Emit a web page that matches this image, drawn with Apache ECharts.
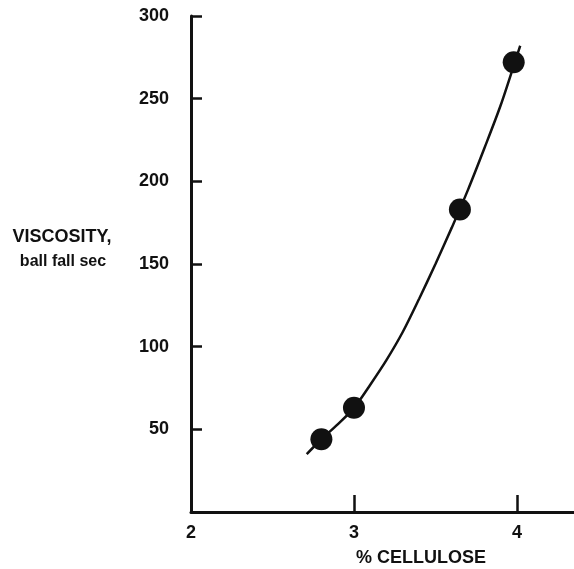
<!DOCTYPE html>
<html>
<head>
<meta charset="utf-8">
<title>Viscosity vs % Cellulose</title>
<script src="https://cdn.jsdelivr.net/npm/echarts@6/dist/echarts.min.js"></script>
<style>
  html, body { margin: 0; padding: 0; background: #ffffff; }
  #chart { width: 574px; height: 569px; }
</style>
</head>
<body>
<div id="chart"></div>
<script>
// Measured samples: % cellulose vs ball-fall viscosity (sec)
const celluloseX = [2.8, 3.0, 3.65, 3.98];
const viscosity = [44, 63, 183, 272];

// Hand-drawn fitted curve through the samples
const curveX = [2.71, 2.8, 2.9, 3.0, 3.1, 3.2, 3.3, 3.4, 3.5, 3.6, 3.7, 3.8, 3.9, 4.0, 4.02];
const curveY = [35, 44, 53, 63, 77, 92, 109, 129, 150, 172, 195, 220, 246, 276, 282];

// Tick labels
const xTicks = [2, 3, 4];
const yTicks = [50, 100, 150, 200, 250, 300];

const INK = '#111111';
const FONT = '"Liberation Sans", Arial, Helvetica, sans-serif';

const chart = echarts.init(document.getElementById('chart'), null, { renderer: 'canvas' });

chart.setOption({
  backgroundColor: '#ffffff',
  animation: false,
  grid: { left: 191, right: 0, top: 16, bottom: 57 },
  xAxis: {
    type: 'value',
    min: 2,
    max: 4.35,
    interval: 1,
    splitLine: { show: false },
    axisLine: { show: true, lineStyle: { color: INK, width: 3 } },
    axisTick: {
      show: true, inside: true, length: 17,
      customValues: xTicks.filter(v => v !== 2),
      lineStyle: { color: INK, width: 2.5 }
    },
    axisLabel: {
      customValues: xTicks,
      margin: 12,
      color: INK, fontFamily: FONT, fontWeight: 'bold', fontSize: 18
    }
  },
  yAxis: {
    type: 'value',
    min: 0,
    max: 300,
    interval: 50,
    splitLine: { show: false },
    axisLine: { show: true, lineStyle: { color: INK, width: 3 } },
    axisTick: {
      show: true, inside: true, length: 11,
      customValues: yTicks,
      lineStyle: { color: INK, width: 2.5 }
    },
    axisLabel: {
      customValues: yTicks,
      margin: 22,
      color: INK, fontFamily: FONT, fontWeight: 'bold', fontSize: 18
    }
  },
  graphic: [
    {
      type: 'text', x: 62, y: 237,
      style: {
        text: 'VISCOSITY,',
        fill: INK, font: 'bold 18px ' + FONT,
        textAlign: 'center', textVerticalAlign: 'middle'
      }
    },
    {
      type: 'text', x: 63, y: 262,
      style: {
        text: 'ball fall sec',
        fill: INK, font: 'bold 16px ' + FONT,
        textAlign: 'center', textVerticalAlign: 'middle'
      }
    },
    {
      type: 'text', x: 421, y: 558,
      style: {
        text: '% CELLULOSE',
        fill: INK, font: 'bold 18px ' + FONT,
        textAlign: 'center', textVerticalAlign: 'middle'
      }
    }
  ],
  series: [
    {
      type: 'line',
      data: curveX.map((x, i) => [x, curveY[i]]),
      smooth: 0.3,
      showSymbol: false,
      symbol: 'none',
      lineStyle: { color: INK, width: 2.5 },
      z: 2
    },
    {
      type: 'scatter',
      data: celluloseX.map((x, i) => [x, viscosity[i]]),
      symbol: 'circle',
      symbolSize: 22,
      itemStyle: { color: INK, opacity: 1 },
      z: 3
    }
  ]
});
</script>
</body>
</html>
